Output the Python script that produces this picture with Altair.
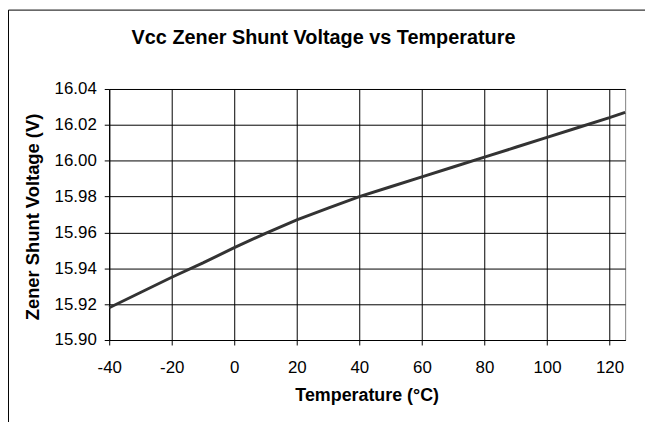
import altair as alt
import pandas as pd

# ---- data ----
temps = [-40, -30, -20, -10, 0, 10, 20, 30, 40, 50, 60, 70, 80, 90, 100, 110, 120, 125]
volts = [15.918, 15.9265, 15.935, 15.943, 15.9515, 15.9595, 15.967, 15.9735, 15.980,
         15.9855, 15.991, 15.9965, 16.002, 16.0075, 16.013, 16.0185, 16.024, 16.027]
x_ticks = [-40, -20, 0, 20, 40, 60, 80, 100, 120]
y_ticks = [15.90, 15.92, 15.94, 15.96, 15.98, 16.00, 16.02, 16.04]
x_domain = [-40, 125]
y_domain = [15.90, 16.04]

title_text = "Vcc Zener Shunt Voltage vs Temperature"
x_title = "Temperature (°C)"
y_title = "Zener Shunt Voltage (V)"

FONT = "Liberation Sans"

df = pd.DataFrame({"t": temps, "v": volts})

x_axis = alt.Axis(values=x_ticks, title=None, grid=True, gridColor="black", gridWidth=1,
                  gridOpacity=1, domainColor="black", domainWidth=1, tickColor="black",
                  tickSize=5, labelFont=FONT, labelFontSize=17, labelColor="black",
                  labelPadding=15, labelExpr="'' + datum.value", labelFlush=False)
y_axis = alt.Axis(values=y_ticks, title=None, grid=True, gridColor="black", gridWidth=1,
                  gridOpacity=1, domainColor="black", domainWidth=1, tickColor="black",
                  tickSize=5, labelFont=FONT, labelFontSize=17, labelColor="black",
                  labelPadding=8, format=".2f", labelFlush=False)

line = alt.Chart(df).mark_line(color="#333333", strokeWidth=3).encode(
    x=alt.X("t:Q", scale=alt.Scale(domain=x_domain, nice=False, zero=False), axis=x_axis),
    y=alt.Y("v:Q", scale=alt.Scale(domain=y_domain, nice=False, zero=False), axis=y_axis),
)

one = pd.DataFrame({"a": [0]})

frame = alt.Chart(one).mark_rect(fillOpacity=0, stroke="black", strokeWidth=1).encode(
    x=alt.value(-101.5), x2=alt.value(700), y=alt.value(-79.5), y2=alt.value(500)
)

title = alt.Chart(pd.DataFrame({"label": [title_text]})).mark_text(
    font=FONT, fontSize=20, fontWeight="bold", color="black", align="center", baseline="middle"
).encode(text="label:N", x=alt.value(216), y=alt.value(-51))

xt = alt.Chart(pd.DataFrame({"label": [x_title]})).mark_text(
    font=FONT, fontSize=18, fontWeight="bold", color="black", align="center", baseline="middle"
).encode(text="label:N", x=alt.value(260), y=alt.value(309))

yt = alt.Chart(pd.DataFrame({"label": [y_title]})).mark_text(
    font=FONT, fontSize=18.5, fontWeight="bold", color="black", align="center", baseline="middle",
    angle=270
).encode(text="label:N", x=alt.value(-77), y=alt.value(129))

chart = alt.layer(frame, line, title, xt, yt).properties(
    width=520, height=253,
    autosize=alt.AutoSizeParams(type="none"),
    padding={"left": 102, "top": 80, "right": 20, "bottom": 81},
).configure_view(stroke="#808080", strokeWidth=1)

chart.save("out.html", embed_options={"renderer": "svg", "actions": False})
